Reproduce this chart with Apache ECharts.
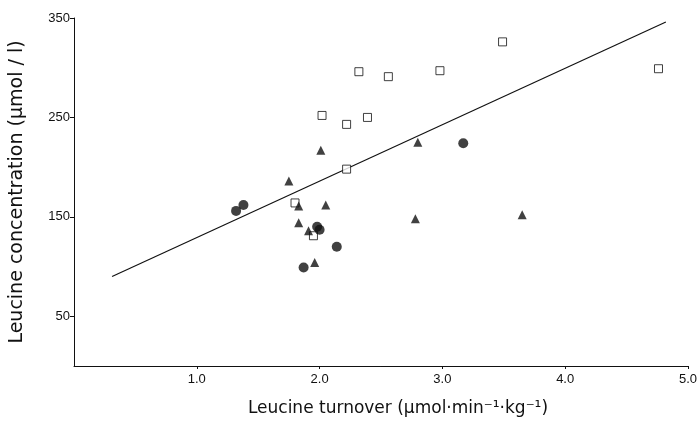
<!DOCTYPE html>
<html>
<head>
<meta charset="utf-8">
<script src="https://cdn.jsdelivr.net/npm/echarts@6/dist/echarts.min.js"></script>
<style>
  html, body { margin: 0; padding: 0; background: #fff; }
  #chart { width: 700px; height: 425px; }
</style>
</head>
<body>
<div id="chart"></div>
<script>
// open squares
const squareX = [2.02, 2.22, 2.39, 2.32, 2.56, 2.98, 3.49, 4.76, 2.22, 1.80, 1.95]
const squareY = [252, 243, 250, 296, 291, 297, 326, 299, 198, 164, 131]
// filled triangles
const triangleX = [1.75, 1.83, 2.05, 1.83, 1.91, 2.01, 1.96, 2.80, 2.78, 3.65]
const triangleY = [186, 161, 162, 144, 136, 217, 104, 225, 148, 152]
// filled circles
const circleX = [1.32, 1.38, 1.98, 2.00, 2.14, 1.87, 3.17]
const circleY = [156, 162, 140, 137, 120, 99, 224]
// regression line ends
const lineX = [0.31, 4.82]
const lineY = [90, 346]
const xTicks = [1, 2, 3, 4, 5]
const yTicks = [50, 150, 250, 350]

const zip = (xs, ys) => xs.map((x, i) => [x, ys[i]])
const tickFont = 'Liberation Sans, Arial, sans-serif'
const nameFont = 'DejaVu Sans, sans-serif'
const ink = '#111'

const chart = echarts.init(document.getElementById('chart'))
chart.setOption({
  animation: false,
  grid: { left: 74, right: 12, top: 18, bottom: 59 },
  xAxis: {
    type: 'value',
    min: 0,
    max: 5,
    name: 'Leucine turnover (μmol·min⁻¹·kg⁻¹)',
    nameLocation: 'middle',
    nameGap: 34,
    nameTextStyle: { fontFamily: nameFont, fontSize: 17, color: ink, padding: [0, 0, 0, 34] },
    axisLine: { lineStyle: { color: ink, width: 1 } },
    axisTick: { inside: false, length: 3, customValues: xTicks, lineStyle: { color: ink } },
    axisLabel: {
      fontFamily: tickFont, fontSize: 13, color: ink, margin: 7,
      customValues: xTicks,
      formatter: v => v.toFixed(1)
    },
    splitLine: { show: false }
  },
  yAxis: {
    type: 'value',
    min: 0,
    max: 350,
    name: 'Leucine concentration (μmol / l)',
    nameLocation: 'middle',
    nameGap: 47,
    nameTextStyle: { fontFamily: nameFont, fontSize: 19, color: ink },
    axisLine: { show: true, lineStyle: { color: ink, width: 1 } },
    axisTick: { show: true, length: 4, customValues: yTicks, lineStyle: { color: ink } },
    axisLabel: { fontFamily: tickFont, fontSize: 13, color: ink, margin: 4, customValues: yTicks },
    splitLine: { show: false }
  },
  series: [
    {
      type: 'line',
      data: zip(lineX, lineY),
      symbol: 'none',
      clip: false,
      lineStyle: { color: ink, width: 1.2 },
      z: 1
    },
    {
      type: 'scatter',
      data: zip(squareX, squareY),
      symbol: 'rect',
      symbolSize: 8,
      itemStyle: { color: '#fff', borderColor: ink, borderWidth: 1 },
      z: 2
    },
    {
      type: 'scatter',
      data: zip(triangleX, triangleY),
      symbol: 'triangle',
      symbolSize: 9,
      itemStyle: { color: ink },
      z: 3
    },
    {
      type: 'scatter',
      data: zip(circleX, circleY),
      symbol: 'circle',
      symbolSize: 10,
      itemStyle: { color: ink },
      z: 4
    }
  ]
})
</script>
</body>
</html>
